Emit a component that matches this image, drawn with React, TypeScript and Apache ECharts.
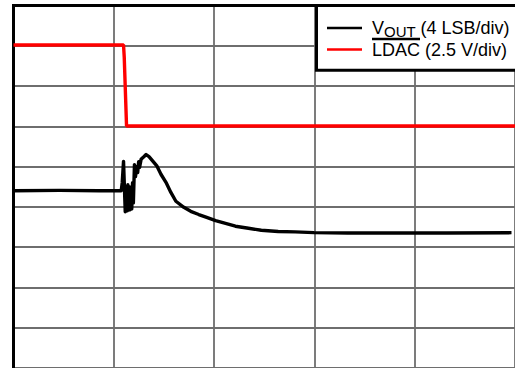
import React, { useEffect, useRef } from "react";
import * as echarts from "echarts";

// Readings in screen divisions (x: time divisions from left edge, y: divisions from bottom of screen)
const vOutTime = [0, 0.46, 0.856, 1.074, 1.084, 1.097, 1.107, 1.114, 1.124, 1.132, 1.14, 1.148, 1.155, 1.163, 1.171, 1.179, 1.187, 1.195, 1.206, 1.216, 1.228, 1.238, 1.248, 1.257, 1.272, 1.302, 1.322, 1.351, 1.391, 1.431, 1.47, 1.52, 1.569, 1.619, 1.698, 1.767, 1.847, 1.926, 2.015, 2.114, 2.213, 2.342, 2.47, 2.639, 2.807, 2.995, 3.332, 3.817, 4.322, 4.965];
const vOutDiv = [4.4, 4.41, 4.4, 4.4, 4.6, 5.13, 4.4, 3.88, 4.5, 3.9, 4.55, 3.92, 4.5, 3.93, 4.45, 3.95, 4.6, 4.1, 5.05, 4.75, 5.0, 4.85, 5.12, 4.98, 5.18, 5.25, 5.3, 5.25, 5.13, 5.01, 4.81, 4.61, 4.36, 4.14, 3.99, 3.89, 3.81, 3.74, 3.66, 3.59, 3.52, 3.47, 3.42, 3.39, 3.38, 3.36, 3.35, 3.35, 3.35, 3.36];

const ldacTime = [0, 1.097, 1.104, 1.127, 5];
const ldacDiv = [8.02, 8.02, 7.72, 6.01, 6.01];

const xDivisions = 5;
const yDivisions = 9;

const legendVout = ["V", "OUT", "(4 LSB/div)"];
const legendLdac = "LDAC (2.5 V/div)";

const FONT = "'Liberation Sans', Arial, Helvetica, sans-serif";

export default function App() {
  const ref = useRef<HTMLDivElement>(null);

  useEffect(() => {
    if (!ref.current) return;
    document.body.style.margin = "0";
    const chart = echarts.init(ref.current, undefined, { renderer: "svg" });
    const grid = "#6e6e6e";
    chart.setOption({
      animation: false,
      backgroundColor: "#ffffff",
      grid: { left: 13.5, top: 5.5, width: 505, height: 364, containLabel: false },
      xAxis: {
        type: "value",
        position: "top",
        min: 0,
        max: xDivisions,
        interval: 1,
        axisLine: { show: true, onZero: false, lineStyle: { color: "#000", width: 3, cap: "square" } },
        axisTick: { show: false },
        axisLabel: { show: false },
        splitLine: { show: true, lineStyle: { color: grid, width: 1.8 } },
      },
      yAxis: {
        type: "value",
        min: 0,
        max: yDivisions,
        interval: 1,
        axisLine: { show: true, onZero: false, lineStyle: { color: "#000", width: 3, cap: "square" } },
        axisTick: { show: false },
        axisLabel: { show: false },
        splitLine: { show: true, lineStyle: { color: grid, width: 1.8 } },
      },
      series: [
        {
          name: "VOUT",
          type: "line",
          data: vOutTime.map((t, i) => [t, vOutDiv[i]]),
          showSymbol: false,
          symbol: "none",
          lineStyle: { color: "#000", width: 3.4, join: "round" },
          z: 3,
        },
        {
          name: "LDAC",
          type: "line",
          data: ldacTime.map((t, i) => [t, ldacDiv[i]]),
          showSymbol: false,
          symbol: "none",
          lineStyle: { color: "#ff0000", width: 3.4 },
          z: 4,
        },
      ],
      graphic: [
        {
          type: "rect",
          z: 100,
          shape: { x: 316.5, y: 5.5, width: 300, height: 64.8 },
          style: { fill: "#fff", stroke: "#000", lineWidth: 3 },
        },
        {
          type: "line",
          z: 101,
          shape: { x1: 327, y1: 28, x2: 362, y2: 28 },
          style: { stroke: "#000", lineWidth: 2.6 },
        },
        {
          type: "line",
          z: 101,
          shape: { x1: 327, y1: 49.5, x2: 362, y2: 49.5 },
          style: { stroke: "#ff0000", lineWidth: 2.6 },
        },
        {
          type: "text",
          z: 101,
          x: 372,
          y: 28,
          style: { text: legendVout[0], font: `18px ${FONT}`, lineHeight: 18, fill: "#000", verticalAlign: "middle", align: "left" },
        },
        {
          type: "text",
          z: 101,
          x: 384,
          y: 31.6,
          style: { text: legendVout[1], font: `15px ${FONT}`, lineHeight: 14, fill: "#000", verticalAlign: "middle", align: "left" },
        },
        {
          type: "text",
          z: 101,
          x: 420.5,
          y: 28,
          style: { text: legendVout[2], font: `18px ${FONT}`, lineHeight: 18, fill: "#000", verticalAlign: "middle", align: "left" },
        },
        {
          type: "line",
          z: 102,
          shape: { x1: 372, y1: 39, x2: 420, y2: 39 },
          style: { stroke: "#000", lineWidth: 2.4 },
        },
        {
          type: "text",
          z: 101,
          x: 372,
          y: 49.5,
          style: { text: legendLdac, font: `18px ${FONT}`, lineHeight: 18, fill: "#000", verticalAlign: "middle", align: "left" },
        },
      ],
    });
    return () => chart.dispose();
  }, []);

  return (
    <div
      ref={ref}
      style={{ position: "fixed", left: 0, top: 0, width: 515, height: 368, background: "#fff" }}
    />
  );
}
